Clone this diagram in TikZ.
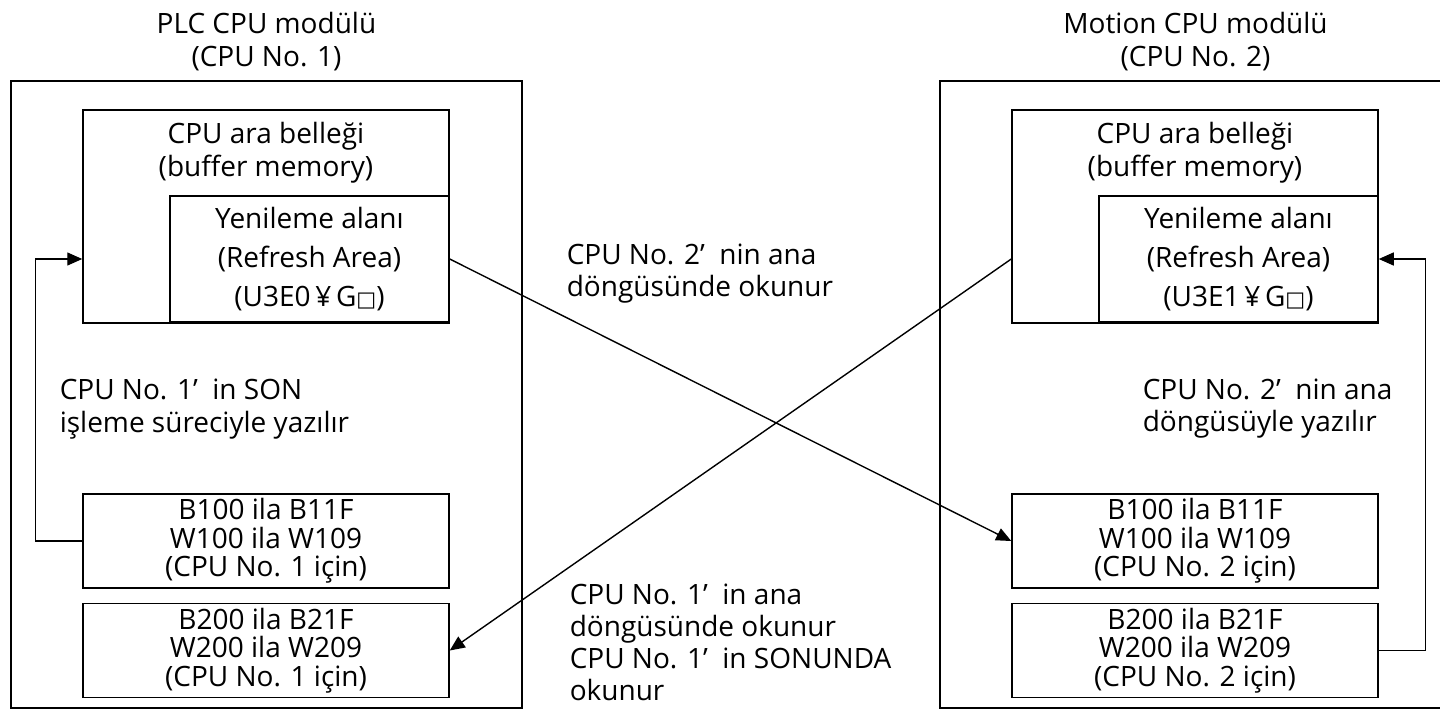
\documentclass[tikz,border=0pt]{standalone}
\usepackage{fontspec}
\setmainfont{Open Sans}
\newfontfamily\symfont{DejaVu Sans}
\usetikzlibrary{
  arrows.meta,
  positioning,
  calc
}
% small square after the device letter
\newcommand{\devsq}{{\symfont\fontsize{21}{21}\selectfont □}}

\begin{document}
\begin{tikzpicture}[
      x=1pt, y=-1pt,
      >={Triangle[length=15pt,width=13pt]},
      line width=1.5pt,
      every node/.style={font=\fontsize{28}{32.5}\selectfont, inner sep=0pt},
      modbox/.style={draw, minimum width=511pt, minimum height=627pt},
      bufbox/.style={draw, minimum width=366pt, minimum height=213pt},
      bufnote/.style={align=center, font=\fontsize{28}{33}\selectfont},
      refbox/.style={draw, minimum width=279pt, minimum height=126pt,
                     align=center, font=\fontsize{28}{39}\selectfont},
      devbox/.style={draw, minimum width=366pt, minimum height=94pt,
                     align=center, font=\fontsize{28}{28.5}\selectfont},
      title/.style={align=center, font=\fontsize{28}{33}\selectfont},
      note/.style={align=left, anchor=west},
      flow/.style={->, line width=1.4pt}
  ]
      \clip (0,0) rectangle (1440,710);

      % CPU No. 1
      \node[modbox] (plc) at (266.5,394.5) {};
      \node[title] (plctitle) at (266.5,41.5) {PLC CPU modülü\\(CPU No. 1)};
      \node[bufbox] (lbuf) at (266,216.5) {};
      \node[bufnote] (lbufnote) at (266,153) {CPU ara belleği\\(buffer memory)};
      \node[refbox] (lref) at (309.5,259) {Yenileme alanı\\(Refresh Area)\\(U3E0\,¥\,G\devsq)};
      \node[devbox] (lb1) at (266,541) {B100 ila B11F\\W100 ila W109\\(CPU No. 1 için)};
      \node[devbox] (lb2) at (266,650.5) {B200 ila B21F\\W200 ila W209\\(CPU No. 1 için)};
      \node[note] (lnote) at (59,409) {CPU No. 1’~ in SON\\işleme süreciyle yazılır};

      % CPU No. 2
      \node[modbox] (mot) at (1195.5,394.5) {};
      \node[title] (mottitle) at (1195.5,41.5) {Motion CPU modülü\\(CPU No. 2)};
      \node[bufbox] (rbuf) at (1195,216.5) {};
      \node[bufnote] (rbufnote) at (1195,153) {CPU ara belleği\\(buffer memory)};
      \node[refbox] (rref) at (1238.5,259) {Yenileme alanı\\(Refresh Area)\\(U3E1\,¥\,G\devsq)};
      \node[devbox] (rb1) at (1195,541) {B100 ila B11F\\W100 ila W109\\(CPU No. 2 için)};
      \node[devbox] (rb2) at (1195,650.5) {B200 ila B21F\\W200 ila W209\\(CPU No. 2 için)};
      \node[note] (rnote) at (1142,408.5) {CPU No. 2’~ nin ana\\döngüsüyle yazılır};

      % okuma notlari
      \node[note] (readtwo) at (566,273.5) {CPU No. 2’~ nin ana\\döngüsünde okunur};
      \node[note, font=\fontsize{28}{32}\selectfont] (readone) at (569,642)
          {CPU No. 1’~ in ana\\döngüsünde okunur\\CPU No. 1’~ in SONUNDA\\okunur};

      % yazma ve okuma oklari
      \draw[flow] (lb1.west) -- ++(-47,0) |- (lbuf.west |- lref.east);
      \draw[flow] (rb2.east) -- ++(47,0) |- (rref.east);
      \draw[flow] (lref.east) -- (rb1.west);
      \draw[flow] (rbuf.west |- rref.east) -- (lb2.east);
  \end{tikzpicture}
\end{document}
